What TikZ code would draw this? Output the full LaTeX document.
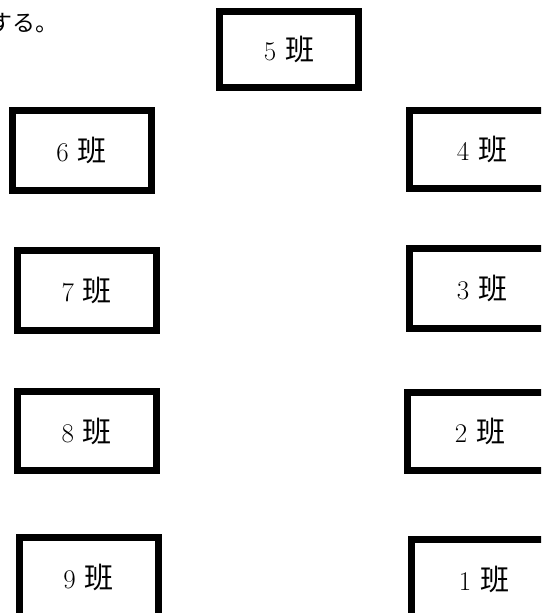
\documentclass[tikz,border=0pt]{standalone}
\usepackage{fontspec}
\newfontfamily\cjk{Noto Sans CJK JP}
\tikzset{
  cls/.style={draw=black, line width=7pt, fill=white, inner sep=0pt,
    minimum width=139pt, minimum height=79pt,
    font=\fontsize{27}{30}\selectfont},
}
\newcommand{\han}[1]{#1\hspace{9pt}{\cjk\fontsize{29}{32}\selectfont 班}}
\begin{document}
\begin{tikzpicture}[x=1pt,y=-1pt]
\useasboundingbox (0,0) rectangle (541,613);
\clip (0,0) rectangle (541,613);
\fill[white] (0,0) rectangle (541,613);
\node[anchor=base west, inner sep=0pt, font=\fontsize{23}{27}\selectfont\cjk] (intro) at (-11,31) {する。};
\node[cls, minimum height=76pt] (c5) at (289,49.5) {\han{5}};
\node[cls, minimum height=80pt] (c6) at (81.5,150) {\han{6}};
\node[cls, minimum height=80pt] (c7) at (86.75,290) {\han{7}};
\node[cls] (c8) at (86.75,431) {\han{8}};
\node[cls, minimum height=80pt] (c9) at (88.5,577.5) {\han{9}};
\node[cls, minimum width=145pt, minimum height=78pt] (c4) at (482,149.5) {\han{4}};
\node[cls, minimum width=145pt, minimum height=79.5pt] (c3) at (482,288.25) {\han{3}};
\node[cls, minimum width=145pt, minimum height=77.5pt] (c2) at (480,431.25) {\han{2}};
\node[cls, minimum width=145pt, minimum height=80pt] (c1) at (484,579.5) {\han{1}};
\end{tikzpicture}
\end{document}
